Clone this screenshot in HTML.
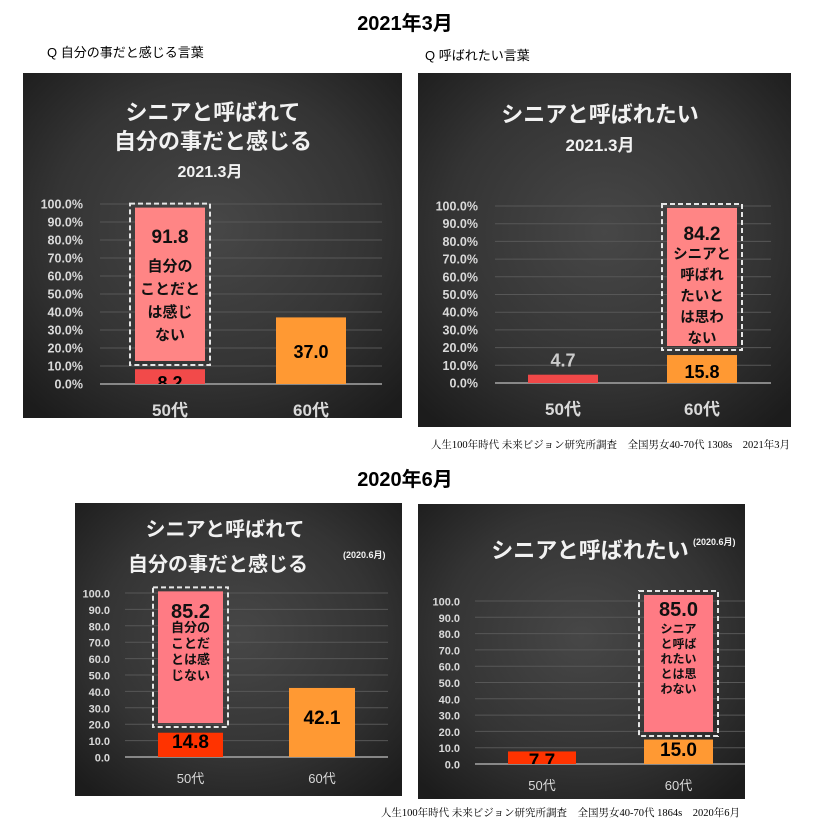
<!DOCTYPE html>
<html><head><meta charset="utf-8"><style>
html,body{margin:0;padding:0;background:#fff;width:813px;height:840px;overflow:hidden}
text{font-family:"Liberation Sans","Noto Sans CJK JP",sans-serif}
.serif{font-family:"Liberation Serif","Noto Serif CJK JP",serif}
</style></head><body>
<svg id="s" width="813" height="840" viewBox="0 0 813 840" xmlns="http://www.w3.org/2000/svg">
<defs>
<radialGradient id="bg" cx="50%" cy="45%" r="70%">
<stop offset="0" stop-color="#474747"/><stop offset="0.6" stop-color="#343434"/><stop offset="1" stop-color="#1c1c1c"/>
</radialGradient>
</defs>
<text x="405" y="30" text-anchor="middle" font-size="20" font-weight="bold">2021年3月</text>
<text x="47" y="57" font-size="13">Q 自分の事だと感じる言葉</text>
<text x="425" y="60" font-size="13">Q 呼ばれたい言葉</text>
<text x="790" y="448" text-anchor="end" font-size="10.5" class="serif">人生100年時代 未来ビジョン研究所調査　全国男女40-70代 1308s　2021年3月</text>
<text x="405" y="486" text-anchor="middle" font-size="20" font-weight="bold">2020年6月</text>
<text x="740" y="816" text-anchor="end" font-size="10.5" class="serif">人生100年時代 未来ビジョン研究所調査　全国男女40-70代 1864s　2020年6月</text>
</svg>
<script>
// data arrays
const categories = ["50代", "60代"];
const lowValues1 = [8.2, 37.0];
const lowValues2 = [4.7, 15.8];
const lowValues3 = [14.8, 42.1];
const lowValues4 = [7.7, 15.0];
const highValues1 = [91.8, null];
const highValues2 = [null, 84.2];
const highValues3 = [85.2, null];
const highValues4 = [null, 85.0];
const boxStart = [12.8, 20.9, 20.7, 19.6];
const boxEnd = [98.0, 98.9, 101.0, 103.7];
const tickValues = [0,10,20,30,40,50,60,70,80,90,100];
const tickLabelsPct = ["0.0%","10.0%","20.0%","30.0%","40.0%","50.0%","60.0%","70.0%","80.0%","90.0%","100.0%"];
const tickLabelsNum = ["0.0","10.0","20.0","30.0","40.0","50.0","60.0","70.0","80.0","90.0","100.0"];

const NS = "http://www.w3.org/2000/svg";
const svg = document.getElementById('s');
function mk(tag, attrs, parent){const e=document.createElementNS(NS,tag);for(const k in attrs)e.setAttribute(k,attrs[k]);(parent||svg).appendChild(e);return e;}
function txt(parent,x,y,s,size,fill,weight,anchor){const t=mk('text',{x:x,y:y,'font-size':size,fill:fill,'font-weight':weight||'bold','text-anchor':anchor||'middle'},parent);t.textContent=s;return t;}

const charts = [
 {name:'chart-2021-self', panel:[23,73,379,345], y0:384, y100:204, px:[100,382], bars:[[135,205],[276,346]], low:lowValues1, high:highValues1, box:0,
  colors:['#f24a4a','#ff9933'], pink:'#ff8585', ticks:tickLabelsPct, tickX:83, tickSize:12.5, catY:416, catSize:17, catW:'bold',
  titles:[['シニアと呼ばれて',213,120,22],['自分の事だと感じる',213,149,22],['2021.3月',210,177,16]],
  highY:243, highSize:17, lines:['自分の','ことだと','は感じ','ない'], lineY:[271,294,317,340], lineSize:15, lowY:[389,358], lowFill:['#000','#000']},
 {name:'chart-2021-want', panel:[418,73,373,354], y0:383, y100:206, px:[495,771], bars:[[528,598],[667,737]], low:lowValues2, high:highValues2, box:1,
  colors:['#f04848','#ff9933'], pink:'#ff8585', ticks:tickLabelsPct, tickX:478, tickSize:12.5, catY:415, catSize:17, catW:'bold',
  titles:[['シニアと呼ばれたい',600,122,22],['2021.3月',600,151,17]],
  highY:240, highSize:17, lines:['シニアと','呼ばれ','たいと','は思わ','ない'], lineY:[259,280,301,322,343], lineSize:14.5, lowY:[366,378], lowFill:['#ccc','#000'], above:[true,false]},
 {name:'chart-2020-self', panel:[75,503,327,293], y0:757, y100:593, px:[125,388], bars:[[158,223],[289,355]], low:lowValues3, high:highValues3, box:2,
  colors:['#ff3300','#ff9933'], pink:'#ff7b84', ticks:tickLabelsNum, tickX:110, tickSize:11, catY:783, catSize:13, catW:'normal',
  titles:[['シニアと呼ばれて',225,536,20],['自分の事だと感じる',218,571,20]], sub:['(2020.6月)',343,558],
  highY:618, highSize:18, lines:['自分の','ことだ','とは感','じない'], lineY:[632,648,664,680], lineSize:13, lowY:[748,724], lowFill:['#000','#000']},
 {name:'chart-2020-want', panel:[418,504,327,295], y0:764, y100:601, px:[475,745], bars:[[508,576],[644,713]], low:lowValues4, high:highValues4, box:3,
  colors:['#ff3300','#ff9933'], pink:'#ff7b84', ticks:tickLabelsNum, tickX:460, tickSize:11, catY:790, catSize:13, catW:'normal',
  titles:[['シニアと呼ばれたい',590,558,22]], sub:['(2020.6月)',693,545],
  highY:616, highSize:18, lines:['シニア','と呼ば','れたい','とは思','わない'], lineY:[633,648,663,678,693], lineSize:12, lowY:[767,756], lowFill:['#000','#000']}
];

charts.forEach(c=>{
  const g = mk('g',{});
  
  
  const p = mk('rect',{x:c.panel[0],y:c.panel[1],width:c.panel[2],height:c.panel[3],fill:'url(#bg)'},g);
  
  
  const yS = v => c.y0 - (v/100)*(c.y0-c.y100);
  c.titles.forEach(t=>{const e=txt(g,t[1],t[2],t[0],t[3],'#f2f2f2','bold');
    
    });
  if(c.sub){const e=txt(g,c.sub[1],c.sub[2],c.sub[0],9,'#f2f2f2','bold','start');
    
    }
  tickValues.forEach((v,i)=>{
    const y=yS(v);
    if(v>0){const l=mk('line',{x1:c.px[0],x2:c.px[1],y1:y,y2:y,stroke:'#575757','stroke-width':1},g);
      
      }
    const t=txt(g,c.tickX,y+4.5,c.ticks[i],c.tickSize,'#d9d9d9','bold','end');
    
    
  });
  const ax=mk('line',{x1:c.px[0],x2:c.px[1],y1:c.y0,y2:c.y0,stroke:'#a6a6a6','stroke-width':1.5},g);
  
  
  const clip = mk('clipPath',{id:'clip-'+c.name},g);
  mk('rect',{x:c.panel[0],y:c.panel[1],width:c.panel[2],height:c.y0-c.panel[1]},clip);
  categories.forEach((cat,i)=>{
    const [x1,x2]=c.bars[i]; const cx=(x1+x2)/2;
    const v=c.low[i];
    const b=mk('rect',{x:x1,y:yS(v),width:x2-x1,height:c.y0-yS(v),fill:c.colors[i]},g);
    
    
    const lt=txt(g,cx,c.lowY[i],v.toFixed(1),c.highSize+1,c.lowFill[i],'bold');
    if(!(c.above&&c.above[i])) lt.setAttribute('clip-path','url(#clip-'+c.name+')');
    else lt.setAttribute('y', yS(v)-8);
    
    
    const hv=c.high[i];
    if(hv!==null){
      const ys=yS(boxStart[c.box]), ye=yS(boxEnd[c.box]);
      const pr=mk('rect',{x:x1,y:ye,width:x2-x1,height:ys-ye,fill:c.pink},g);
      
      
      const db=mk('rect',{x:x1-5,y:ye-4,width:x2-x1+10,height:ys-ye+8,fill:'none',stroke:'#e6e6e6','stroke-width':2,'stroke-dasharray':'5,3'},g);
      
      
      const ht=txt(g,cx,c.highY,hv.toFixed(1),c.highSize+2,'#111','bold');
      
      
      c.lines.forEach((s,j)=>{const t=txt(g,cx,c.lineY[j],s,c.lineSize,'#111','bold');
        
        });
    }
    const ct=txt(g,cx,c.catY,cat,c.catSize,'#d9d9d9',c.catW);
    
    
  });
});
</script>
</body></html>
